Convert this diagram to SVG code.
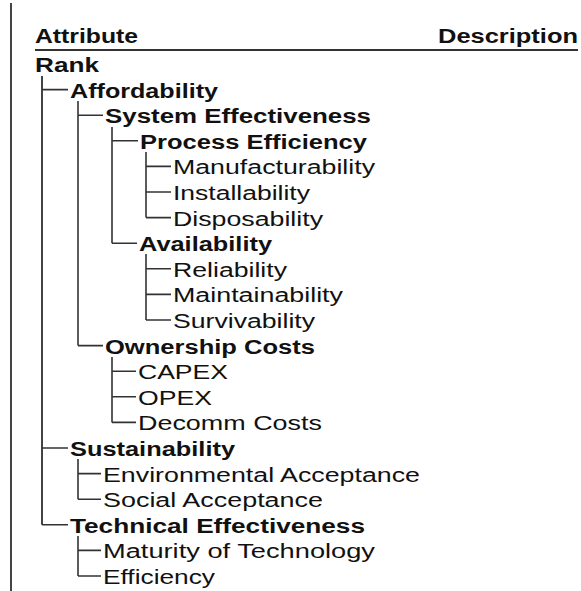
<svg xmlns="http://www.w3.org/2000/svg" width="581" height="591" viewBox="0 0 581 591">
  <style>
    text { font-family: "Liberation Sans", Arial, sans-serif; font-size: 20px; fill: #111; }
    .b { font-weight: bold; }
    .rule { stroke: #333; stroke-width: 2; fill: none; }
    .tree { stroke: #333; stroke-width: 1.6; fill: none; }
    .trunk { stroke: #444; stroke-width: 2; fill: none; }
  </style>
  <rect width="581" height="591" fill="#fff"/>

  <!-- page frame and column header -->
  <g id="frame">
    <line class="trunk" x1="11" y1="3" x2="11" y2="591"/>
    <text class="b" x="35" y="43" textLength="103" lengthAdjust="spacingAndGlyphs">Attribute</text>
    <text class="b" x="438" y="43" textLength="140" lengthAdjust="spacingAndGlyphs">Description</text>
    <line class="rule" x1="35" y1="50" x2="578" y2="50"/>
  </g>

  <!-- tree connectors -->
  <g id="connectors">
    <path class="trunk" d="M42 76 V524.8"/>
    <path class="tree" d="M42 89.6 H68 M42 448 H68 M42 524.8 H68"/>
    <path class="tree" d="M78 101 V345.6 M78 115.2 H103 M78 345.6 H103"/>
    <path class="tree" d="M112 127 V243.2 M112 140.8 H138 M112 243.2 H137"/>
    <path class="tree" d="M146 152 V217.6 M146 166.4 H171 M146 192 H171 M146 217.6 H171"/>
    <path class="tree" d="M146 254 V320 M146 268.8 H171 M146 294.4 H171 M146 320 H171"/>
    <path class="tree" d="M112 357 V422.4 M112 371.2 H136 M112 396.8 H136 M112 422.4 H136"/>
    <path class="tree" d="M78 459 V499.2 M78 473.6 H101 M78 499.2 H101"/>
    <path class="tree" d="M78 536 V576 M78 550.4 H101 M78 576 H101"/>
  </g>

  <g id="rank"><text class="b" x="35" y="72" textLength="64" lengthAdjust="spacingAndGlyphs">Rank</text></g>
  <g id="affordability"><text class="b" x="70" y="97.6" textLength="148" lengthAdjust="spacingAndGlyphs">Affordability</text></g>
  <g id="system-effectiveness"><text class="b" x="105" y="123.2" textLength="266" lengthAdjust="spacingAndGlyphs">System Effectiveness</text></g>
  <g id="process-efficiency"><text class="b" x="140" y="148.8" textLength="227" lengthAdjust="spacingAndGlyphs">Process Efficiency</text></g>
  <g id="manufacturability"><text x="173" y="174.4" textLength="202" lengthAdjust="spacingAndGlyphs">Manufacturability</text></g>
  <g id="installability"><text x="173" y="200" textLength="137" lengthAdjust="spacingAndGlyphs">Installability</text></g>
  <g id="disposability"><text x="173" y="225.6" textLength="150" lengthAdjust="spacingAndGlyphs">Disposability</text></g>
  <g id="availability"><text class="b" x="139" y="251.2" textLength="133" lengthAdjust="spacingAndGlyphs">Availability</text></g>
  <g id="reliability"><text x="173" y="276.8" textLength="114" lengthAdjust="spacingAndGlyphs">Reliability</text></g>
  <g id="maintainability"><text x="173" y="302.4" textLength="170" lengthAdjust="spacingAndGlyphs">Maintainability</text></g>
  <g id="survivability"><text x="173" y="328" textLength="142" lengthAdjust="spacingAndGlyphs">Survivability</text></g>
  <g id="ownership-costs"><text class="b" x="105" y="353.6" textLength="210" lengthAdjust="spacingAndGlyphs">Ownership Costs</text></g>
  <g id="capex"><text x="138" y="379.2" textLength="90" lengthAdjust="spacingAndGlyphs">CAPEX</text></g>
  <g id="opex"><text x="138" y="404.8" textLength="74" lengthAdjust="spacingAndGlyphs">OPEX</text></g>
  <g id="decomm-costs"><text x="138" y="430.4" textLength="184" lengthAdjust="spacingAndGlyphs">Decomm Costs</text></g>
  <g id="sustainability"><text class="b" x="70" y="456" textLength="165" lengthAdjust="spacingAndGlyphs">Sustainability</text></g>
  <g id="environmental-acceptance"><text x="103" y="481.6" textLength="317" lengthAdjust="spacingAndGlyphs">Environmental Acceptance</text></g>
  <g id="social-acceptance"><text x="103" y="507.2" textLength="220" lengthAdjust="spacingAndGlyphs">Social Acceptance</text></g>
  <g id="technical-effectiveness"><text class="b" x="70" y="532.8" textLength="295" lengthAdjust="spacingAndGlyphs">Technical Effectiveness</text></g>
  <g id="maturity-of-technology"><text x="103" y="558.4" textLength="272" lengthAdjust="spacingAndGlyphs">Maturity of Technology</text></g>
  <g id="efficiency"><text x="103" y="584" textLength="112" lengthAdjust="spacingAndGlyphs">Efficiency</text></g>
</svg>
